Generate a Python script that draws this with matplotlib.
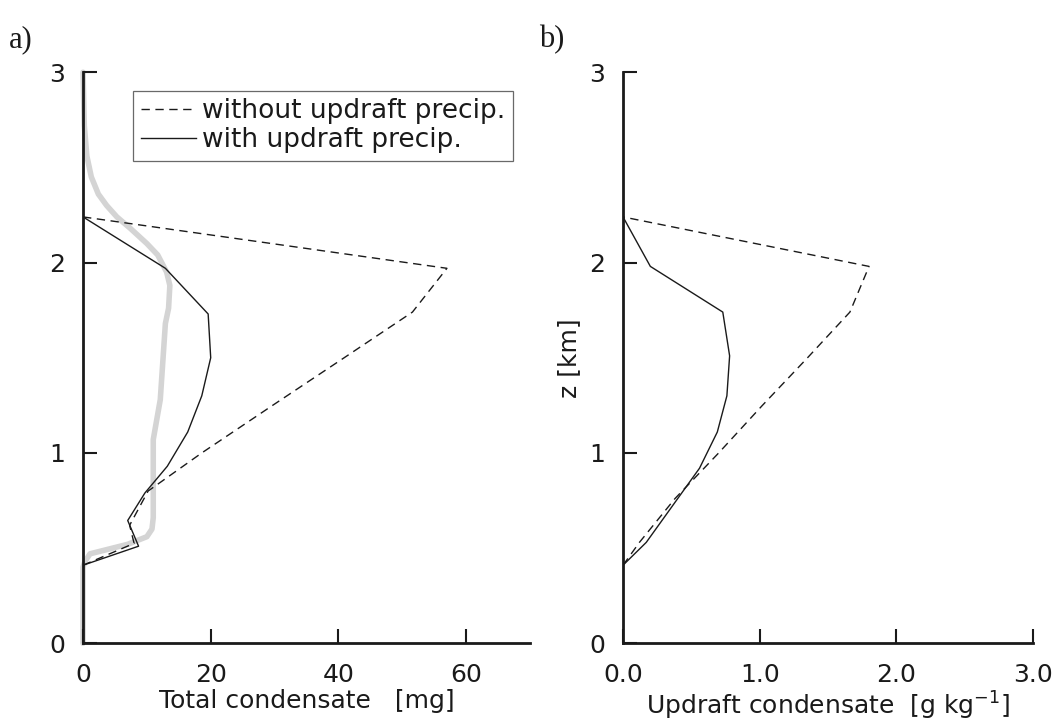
import matplotlib
matplotlib.use("Agg")
from matplotlib import pyplot as plt

plt.rcParams['font.family'] = ['DejaVu Sans']

# panel a: total condensate [mg] vs height [km]
z_a_dash = [0.41, 0.525, 0.62, 0.80, 1.0, 1.25, 1.5, 1.74, 1.97, 2.24]
q_a_dash = [0.0, 8.0, 7.3, 10.2, 18.6, 29.7, 40.9, 51.6, 57.0, 0.0]

z_a_solid = [0.41, 0.51, 0.645, 0.79, 0.93, 1.11, 1.30, 1.50, 1.73, 1.97, 2.24]
q_a_solid = [0.0, 8.7, 7.0, 9.7, 13.2, 16.4, 18.6, 20.0, 19.6, 12.9, 0.0]

# thick grey reference profile
z_a_gray = [0.0, 0.40, 0.43, 0.47, 0.52, 0.56, 0.60, 0.66, 0.78, 1.07, 1.28,
            1.68, 1.76, 1.88, 1.95, 2.04, 2.10, 2.18, 2.24, 2.30, 2.36, 2.45,
            2.56, 2.72, 3.0]
q_a_gray = [0.0, 0.0, 0.3, 1.1, 7.0, 10.0, 10.8, 11.0, 11.0, 11.0, 12.1,
            12.9, 13.4, 13.6, 13.1, 11.7, 10.0, 7.4, 5.3, 3.7, 2.4, 1.3,
            0.6, 0.2, 0.0]

# panel b: updraft condensate [g/kg] vs height [km]
z_b_dash = [0.41, 0.53, 0.76, 1.0, 1.25, 1.5, 1.74, 1.98, 2.24]
q_b_dash = [0.0, 0.12, 0.38, 0.70, 1.02, 1.35, 1.66, 1.80, 0.0]

z_b_solid = [0.41, 0.53, 0.77, 0.92, 1.11, 1.30, 1.51, 1.74, 1.98, 2.24]
q_b_solid = [0.0, 0.17, 0.41, 0.56, 0.69, 0.76, 0.78, 0.73, 0.20, 0.0]

z_ticks = [0, 1, 2, 3]
a_ticks = [0, 20, 40, 60]
b_ticks = [0.0, 1.0, 2.0, 3.0]
b_ticklabels = ['0.0', '1.0', '2.0', '3.0']

txt = '#1a1a1a'
fs = 18


def style_axis(ax):
    for side in ['top', 'right']:
        ax.spines[side].set_visible(False)
    for side in ['left', 'bottom']:
        ax.spines[side].set_linewidth(2.0)
        ax.spines[side].set_color(txt)
    ax.tick_params(direction='in', length=10, width=1.5, colors=txt,
                   labelsize=fs)
    ax.tick_params(axis='x', pad=14)
    ax.tick_params(axis='y', pad=13)
    ax.set_yticks(z_ticks)
    ax.set_ylim(0, 3)


fig = plt.figure(figsize=(10.59, 7.24), dpi=100)
ax_a = fig.add_axes([0.0784, 0.1115, 0.422, 0.7887])
ax_b = fig.add_axes([0.5883, 0.1115, 0.3872, 0.7887])

ax_a.plot(q_a_gray, z_a_gray, color='#d4d4d4', linewidth=4.0,
          solid_capstyle='round', solid_joinstyle='round', clip_on=False,
          zorder=1)
ax_a.plot(q_a_dash, z_a_dash, color=txt, linewidth=1.0, linestyle=(0, (6, 4)),
          label='without updraft precip.', zorder=2)
ax_a.plot(q_a_solid, z_a_solid, color=txt, linewidth=1.0,
          label='with updraft precip.', zorder=2)
style_axis(ax_a)
ax_a.set_xlim(0, 70)
ax_a.set_xticks(a_ticks)
ax_a.set_xlabel('Total condensate   [mg]', fontsize=fs, color=txt, labelpad=2)
leg = ax_a.legend(loc='upper right', bbox_to_anchor=(0.962, 0.968),
                  fontsize=19, frameon=True, fancybox=False, handlelength=2.1,
                  handletextpad=0.2, borderpad=0.3, labelspacing=0.1,
                  borderaxespad=0.0)
leg.get_frame().set_edgecolor('#444444')
leg.get_frame().set_linewidth(0.9)
for t in leg.get_texts():
    t.set_color(txt)

ax_b.plot(q_b_dash, z_b_dash, color=txt, linewidth=1.0, linestyle=(0, (6, 4)))
ax_b.plot(q_b_solid, z_b_solid, color=txt, linewidth=1.0)
style_axis(ax_b)
ax_b.set_xlim(0, 3)
ax_b.set_xticks(b_ticks)
ax_b.set_xticklabels(b_ticklabels)
ax_b.set_xlabel('Updraft condensate  [g kg$^{-1}$]', fontsize=fs, color=txt,
                labelpad=2)
ax_b.set_ylabel('z [km]', fontsize=fs, color=txt, labelpad=6)

fig.text(0.008, 0.935, 'a)', fontsize=22, family='Liberation Serif', color=txt)
fig.text(0.509, 0.935, 'b)', fontsize=22, family='Liberation Serif', color=txt)

fig.savefig('out.png', dpi=100)
